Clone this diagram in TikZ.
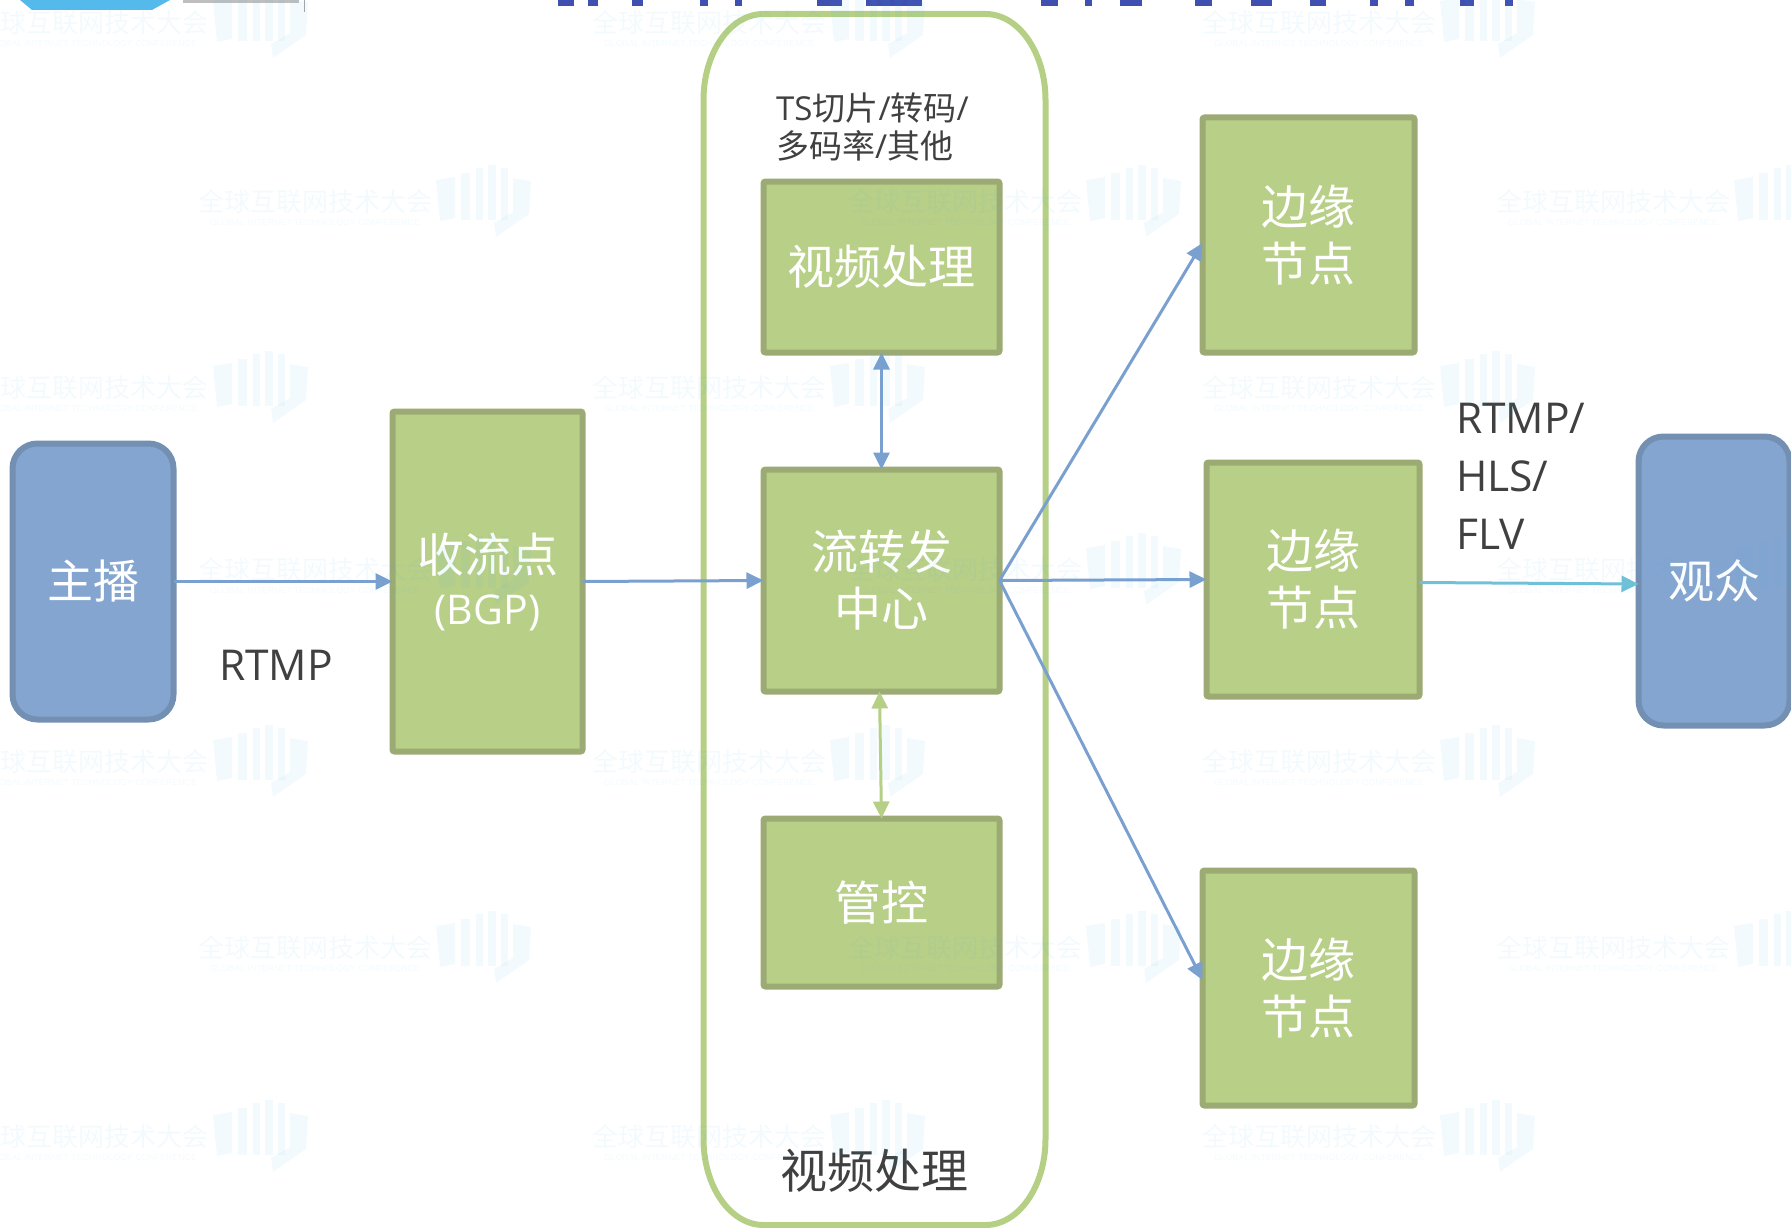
\documentclass[tikz,border=0pt]{standalone}
\usepackage{fontspec}
\setmainfont{Open Sans}
\newfontfamily\cjk{Noto Sans CJK SC}
\newfontfamily\wmlat{Liberation Sans}
\usetikzlibrary{arrows.meta,calc}
\definecolor{gfill}{HTML}{B8CF88}
\definecolor{gline}{HTML}{9CAB74}
\definecolor{bfill}{HTML}{84A5CF}
\definecolor{bline}{HTML}{7390B3}
\definecolor{wire}{HTML}{7AA0D0}
\definecolor{wiregreen}{HTML}{B5CF85}
\definecolor{wirecyan}{HTML}{70C0D8}
\definecolor{ink}{HTML}{404040}
\definecolor{wm}{HTML}{35AEE8}
\definecolor{titleblue}{HTML}{4050B0}
\tikzset{
  gbox/.style={draw=gline,fill=gfill,line width=6pt,rounded corners=2pt,inner sep=0pt,outer sep=0pt,
    align=center,text=white,font=\cjk\fontsize{47}{57}\selectfont},
  bbox/.style={draw=bline,fill=bfill,line width=6pt,rounded corners=25pt,inner sep=0pt,outer sep=0pt,
    align=center,text=white,font=\cjk\fontsize{46}{56}\selectfont},
  wirearrow/.style={draw=wire,line width=3pt,-{Stealth[length=17pt,width=16pt,inset=0pt]}},
  wiretwo/.style={draw=wire,line width=3pt,{Stealth[length=17pt,width=16pt,inset=0pt]}-{Stealth[length=17pt,width=16pt,inset=0pt]}},
  label/.style={text=ink,align=left,inner sep=0pt},
}
\newcommand{\wmark}[2]{%
  \begin{scope}[shift={(#1,#2)},opacity=.06]
    \node[anchor=center,text=wm,inner sep=0pt,font=\cjk\fontsize{26}{27}\selectfont] at (117,12) {全球互联网技术大会};
    \node[anchor=center,text=wm,inner sep=0pt,font=\wmlat\fontsize{8.8}{9}\selectfont] at (117,32) {GLOBAL INTERNET TECHNOLOGY CONFERENCE};
    \fill[wm] (238,-10) -- (257,-13) -- (257,28) -- (242,31) -- cycle;
    \fill[wm] (263,-17) rectangle (272,30);
    \fill[wm] (278,-22) rectangle (285,30);
    \fill[wm] (290,-25) rectangle (298,30);
    \fill[wm] (303,-22) rectangle (310,30);
    \fill[wm] (315,-12) -- (333,-9) -- (331,24) -- (298,47) -- (296,33) -- (315,22) -- cycle;
  \end{scope}}
\begin{document}
\begin{tikzpicture}[x=1pt,y=-1pt]
\useasboundingbox (0,0) rectangle (1791,1228);
% cropped header remains
\fill[wm!85!white] (20,0) -- (170,0) -- (152,10) -- (32,10) -- cycle;
\fill[gray!50] (183,0) rectangle (299,3);
\draw[gray!70,line width=1pt] (304,0) -- (304,12);
\foreach \a/\b in {558/574,588/598,632/643,700/708,735/742,817/842,866/922,1041/1058,1085/1092,1120/1142,1195/1212,1251/1272,1310/1326,1370/1378,1405/1414,1460/1474,1505/1513}
  \fill[titleblue] (\a,0) rectangle (\b,6);
% container
\draw[draw=wiregreen,line width=6pt]
  (703.5,100) .. controls (703.5,53) and (730,14) .. (763.5,14)
  -- (985.5,14) .. controls (1019,14) and (1045.5,53) .. (1045.5,100)
  -- (1045.5,1139) .. controls (1045.5,1186) and (1019,1225) .. (985.5,1225)
  -- (763.5,1225) .. controls (730,1225) and (703.5,1186) .. (703.5,1139) -- cycle;
% nodes
\node[bbox,minimum width=161pt,minimum height=276pt] (host) at (93,581.5) {主播};
\node[gbox,minimum width=190pt,minimum height=340pt] (recv) at (487.5,581.5) {收流点\\[-5pt]{\rmfamily\fontsize{41}{50}\selectfont (BGP)}};
\node[gbox,minimum width=236pt,minimum height=171pt] (proc) at (881.5,267) {视频处理};
\node[gbox,minimum width=236pt,minimum height=222pt] (hub) at (881.5,580.5) {流转发\\中心};
\node[gbox,minimum width=236pt,minimum height=168pt] (ctrl) at (881.5,902.5) {管控};
\node[gbox,minimum width=212pt,minimum height=235pt] (edgea) at (1308.5,235) {边缘\\节点};
\node[gbox,minimum width=213pt,minimum height=234pt] (edgeb) at (1313,579.5) {边缘\\节点};
\node[gbox,minimum width=212pt,minimum height=235pt] (edgec) at (1308.5,988) {边缘\\节点};
\node[bbox,minimum width=151pt,minimum height=289pt] (view) at (1714,581) {观众};
% connectors
\draw[wirearrow] (host.east) -- (recv.west);
\draw[wirearrow] (recv.east) -- (hub.west);
\draw[wiretwo] (proc.south) -- (hub.north);
\draw[wiretwo,draw=wiregreen] ($(hub.south)+(-2,0)$) -- (ctrl.north);
\draw[wirearrow] (hub.east) -- ($(edgea.west)+(0,8)$);
\draw[wirearrow] (hub.east) -- (edgeb.west);
\draw[wirearrow] (hub.east) -- ($(edgec.west)+(0,-8)$);
\draw[wirearrow,draw=wirecyan] ($(edgeb.east)+(0,3)$) -- ($(view.west)+(0,3)$);
% labels
\node[label,anchor=west,font=\fontsize{42.5}{50}\selectfont] (lrtmp) at (219,665) {RTMP};
\node[label,anchor=north west,font=\fontsize{42.5}{58}\selectfont] (lout) at (1456,403) {RTMP/\\HLS/\\FLV};
\node[label,anchor=north west,font=\fontsize{33}{38}\selectfont] (lts) at (776,93) {TS{\cjk 切片}/{\cjk 转码}/\\{\cjk 多码率}/{\cjk 其他}};
\node[label,anchor=center,font=\cjk\fontsize{47}{57}\selectfont] (lproc) at (874,1171) {视频处理};
% watermark
\foreach \y in {11,376,750,1125}
  \foreach \x in {-25,592,1202}
    \wmark{\x}{\y};
\foreach \y in {190,558,936}
  \foreach \x in {198,848,1496}
    \wmark{\x}{\y};
\end{tikzpicture}
\end{document}
